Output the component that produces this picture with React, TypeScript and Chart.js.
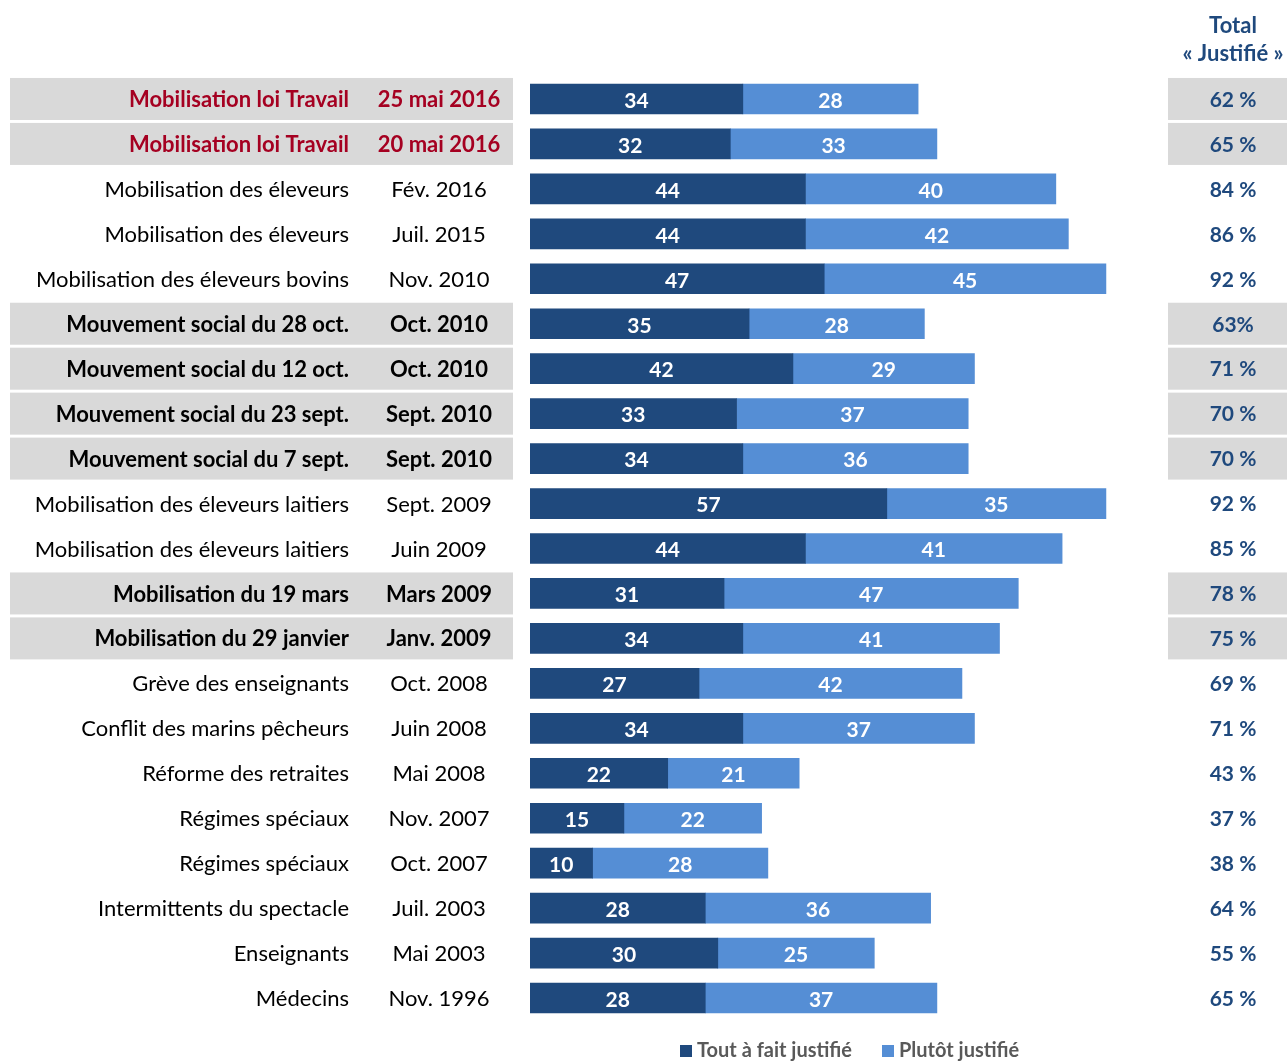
import React, { useEffect, useRef } from "react";
import { Chart, registerables } from "chart.js";

Chart.register(...registerables);

const names = [
  "Mobilisation loi Travail",
  "Mobilisation loi Travail",
  "Mobilisation des éleveurs",
  "Mobilisation des éleveurs",
  "Mobilisation des éleveurs bovins",
  "Mouvement social du 28 oct.",
  "Mouvement social du 12 oct.",
  "Mouvement social du 23 sept.",
  "Mouvement social du 7 sept.",
  "Mobilisation des éleveurs laitiers",
  "Mobilisation des éleveurs laitiers",
  "Mobilisation du 19 mars",
  "Mobilisation du 29 janvier",
  "Grève des enseignants",
  "Conflit des marins pêcheurs",
  "Réforme des retraites",
  "Régimes spéciaux",
  "Régimes spéciaux",
  "Intermittents du spectacle",
  "Enseignants",
  "Médecins",
];

const dates = [
  "25 mai 2016",
  "20 mai 2016",
  "Fév. 2016",
  "Juil. 2015",
  "Nov. 2010",
  "Oct. 2010",
  "Oct. 2010",
  "Sept. 2010",
  "Sept. 2010",
  "Sept. 2009",
  "Juin 2009",
  "Mars 2009",
  "Janv. 2009",
  "Oct. 2008",
  "Juin 2008",
  "Mai 2008",
  "Nov. 2007",
  "Oct. 2007",
  "Juil. 2003",
  "Mai 2003",
  "Nov. 1996",
];

const toutAFait = [34, 32, 44, 44, 47, 35, 42, 33, 34, 57, 44, 31, 34, 27, 34, 22, 15, 10, 28, 30, 28];
const plutot = [28, 33, 40, 42, 45, 28, 29, 37, 36, 35, 41, 47, 41, 42, 37, 21, 22, 28, 36, 25, 37];
const totals = [
  "62 %", "65 %", "84 %", "86 %", "92 %", "63%", "71 %", "70 %", "70 %", "92 %", "85 %",
  "78 %", "75 %", "69 %", "71 %", "43 %", "37 %", "38 %", "64 %", "55 %", "65 %",
];
// 0 = normal, 1 = highlighted (red), 2 = highlighted (bold black)
const highlight = [1, 1, 0, 0, 0, 2, 2, 2, 2, 0, 0, 2, 2, 0, 0, 0, 0, 0, 0, 0, 0];

const seriesNames = ["Tout à fait justifié", "Plutôt justifié"];
const DARK = "#1F497D";
const LIGHT = "#558ED5";
const FONT = "Lato, 'Open Sans', sans-serif";

const labels = names.map((n, i) => n + " " + dates[i]);

const decorPlugin = {
  id: "decor",
  beforeDatasetsDraw(chart: any) {
    const ctx = chart.ctx;
    const yScale = chart.scales.y;
    ctx.save();
    ctx.textBaseline = "middle";
    for (let i = 0; i < labels.length; i++) {
      const y = yScale.getPixelForValue(i);
      if (highlight[i]) {
        ctx.fillStyle = "#D9D9D9";
        ctx.fillRect(10, y - 21, 503, 42);
        ctx.fillRect(1168, y - 21, 119, 42);
      }
      const bold = highlight[i] ? "bold " : "";
      ctx.fillStyle = highlight[i] === 1 ? "#A50021" : "#000000";
      ctx.font = bold + "22px " + FONT;
      ctx.textAlign = "right";
      ctx.fillText(names[i], 349, y + 1);
      ctx.textAlign = "center";
      ctx.fillText(dates[i], 439, y + 1);
      ctx.fillStyle = DARK;
      ctx.font = "bold 21px " + FONT;
      ctx.fillText(totals[i], 1233, y + 1);
    }
    // header
    ctx.fillStyle = DARK;
    ctx.font = "bold 22px " + FONT;
    ctx.textAlign = "center";
    ctx.fillText("Total", 1233, 26);
    ctx.fillText("« Justifié »", 1233, 54);
    // legend
    ctx.textAlign = "left";
    ctx.font = "bold 20px " + FONT;
    const legendItems = [
      { x: 680, color: DARK, text: seriesNames[0] },
      { x: 882, color: LIGHT, text: seriesNames[1] },
    ];
    for (const it of legendItems) {
      ctx.fillStyle = it.color;
      ctx.fillRect(it.x, 1045, 12, 12);
      ctx.fillStyle = "#595959";
      ctx.fillText(it.text, it.x + 17, 1051);
    }
    ctx.restore();
  },
  afterDatasetsDraw(chart: any) {
    const ctx = chart.ctx;
    ctx.save();
    ctx.fillStyle = "#FFFFFF";
    ctx.font = "bold 21px " + FONT;
    ctx.textAlign = "center";
    ctx.textBaseline = "middle";
    chart.data.datasets.forEach((ds: any, di: number) => {
      const meta = chart.getDatasetMeta(di);
      meta.data.forEach((el: any, i: number) => {
        const p = el.getProps(["x", "y", "base"], true);
        const cx = (p.x + p.base) / 2;
        ctx.fillText(String(ds.data[i]), cx, p.y + 2);
      });
    });
    ctx.restore();
  },
};

export default function App() {
  const ref = useRef<HTMLCanvasElement | null>(null);
  useEffect(() => {
    if (!ref.current) return;
    const chart = new Chart(ref.current, {
      type: "bar",
      data: {
        labels,
        datasets: [
          { label: seriesNames[0], data: toutAFait, backgroundColor: DARK, barThickness: 30 },
          { label: seriesNames[1], data: plutot, backgroundColor: LIGHT, barThickness: 30 },
        ],
      },
      options: {
        indexAxis: "y",
        animation: false,
        responsive: true,
        maintainAspectRatio: false,
        devicePixelRatio: 1,
        layout: { padding: { left: 530, right: 131, top: 76.5, bottom: 40.5 } },
        plugins: { legend: { display: false }, tooltip: { enabled: false } },
        scales: {
          x: { stacked: true, display: false, min: 0, max: 100 },
          y: { stacked: true, display: false },
        },
      },
      plugins: [decorPlugin],
    } as any);
    return () => chart.destroy();
  }, []);
  return (
    <div style={{ position: "fixed", left: 0, top: 0, width: "1287px", height: "1061px", background: "#fff" }}>
      <canvas ref={ref} />
    </div>
  );
}
